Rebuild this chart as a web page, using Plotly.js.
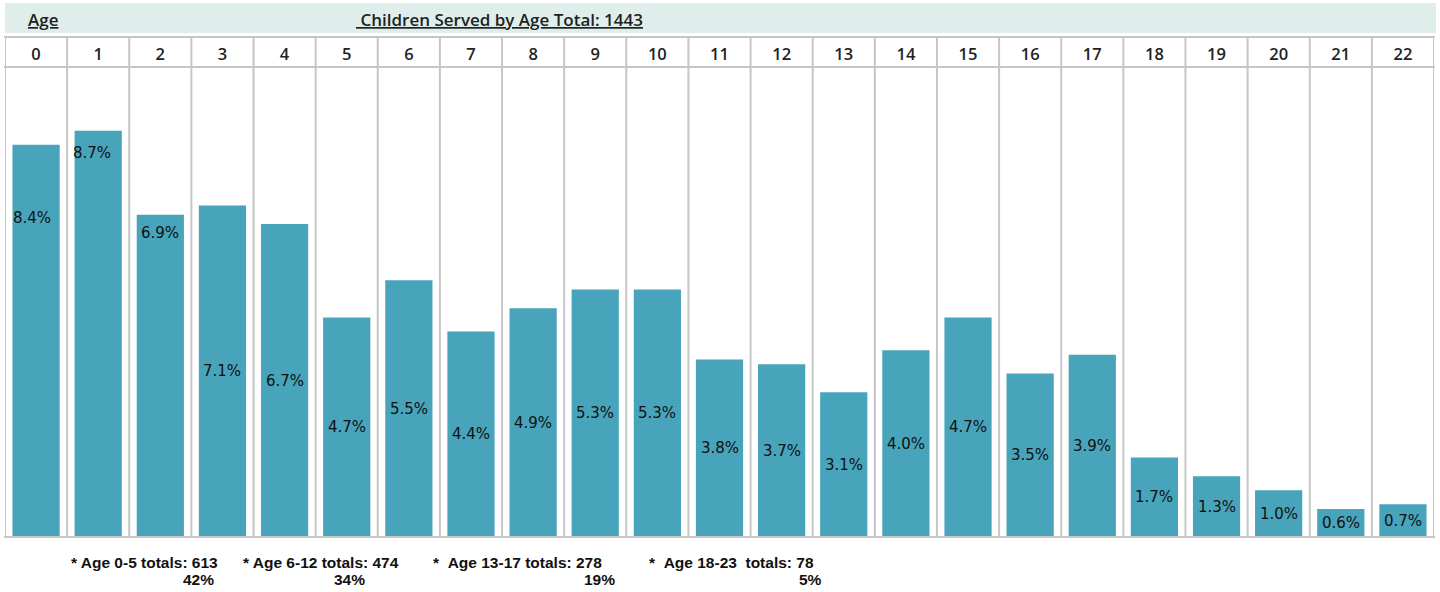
<!DOCTYPE html>
<html>
<head>
<meta charset="utf-8">
<script src="https://cdn.plot.ly/plotly-3.0.1.min.js"></script>
<style>html,body{margin:0;padding:0;background:#fff;}#chart{width:1440px;height:592px;}</style>
</head>
<body>
<div id="chart"></div>
<script>
// ---- data ----
var ages = [0,1,2,3,4,5,6,7,8,9,10,11,12,13,14,15,16,17,18,19,20,21,22];
var ageLabels = ["0","1","2","3","4","5","6","7","8","9","10","11","12","13","14","15","16","17","18","19","20","21","22"];
var pctServed = [8.4,8.7,6.9,7.1,6.7,4.7,5.5,4.4,4.9,5.3,5.3,3.8,3.7,3.1,4.0,4.7,3.5,3.9,1.7,1.3,1.0,0.6,0.7];
var titleLeft = "Age";
var titleMain = "Children Served by Age Total: 1443";
var groupLines = ["* Age 0-5 totals: 613", "* Age 6-12 totals: 474", "*\u00a0\u00a0Age 13-17 totals: 278", "*\u00a0\u00a0Age 18-23\u00a0\u00a0totals: 78"];
var groupPcts = ["42%", "34%", "19%", "5%"];

// ---- layout helpers (pixels) ----
var W = 1440, H = 592;
var plotL = 5, plotR = 1434, plotTop = 67, plotBottom = 537, gridTop = 37;
var pxPerUnit = 46.7;
function py(p){ return (H - p) / H; }
function px(p){ return p / W; }

var barColor = "#47A4BB";
var gridColor = "#C6C6C6";

var trace = {
  type: "bar",
  x: ages,
  y: pctServed,
  marker: {color: barColor, line: {width: 0}},
  width: 0.76,
  hoverinfo: "skip"
};

var shapes = [];
// header band
shapes.push({type:"rect", xref:"paper", yref:"paper", x0:px(5), x1:px(1436), y0:py(33), y1:py(3),
  fillcolor:"#E0EEEB", line:{width:0}, layer:"below"});
// vertical column lines
for (var i = 0; i <= ages.length; i++) {
  shapes.push({type:"line", xref:"x", yref:"paper", x0:i-0.5, x1:i-0.5, y0:py(plotBottom+1), y1:py(gridTop),
    line:{color:gridColor, width:2}, layer:"above"});
}
// horizontal lines
[gridTop, plotTop, plotBottom].forEach(function(yy){
  shapes.push({type:"line", xref:"paper", yref:"paper", x0:px(plotL-1), x1:px(plotR+1), y0:py(yy), y1:py(yy),
    line:{color:gridColor, width:2}, layer:"above"});
});

var annotations = [];
// bar value labels: near top for first three ages, middle for the rest
var topShift = {0:-73, 1:-22, 2:-18};
var sideShift = {0:-4, 1:-6};
for (var j = 0; j < ages.length; j++) {
  var v = pctServed[j];
  var a = {x: ages[j], xref:"x", yref:"y", text: v.toFixed(1) + "%", showarrow:false,
    font:{family:"DejaVu Sans, Verdana, sans-serif", size:15, color:"#111"}, xanchor:"center", yanchor:"middle"};
  if (topShift.hasOwnProperty(j)) { a.y = v; a.yshift = topShift[j]; }
  else { a.y = v / 2; }
  if (sideShift.hasOwnProperty(j)) { a.xshift = sideShift[j]; }
  annotations.push(a);
}
// header titles
var hdrFont = {family:"Open Sans, sans-serif", size:17, color:"#222", weight:600, lineposition:"under"};
annotations.push({xref:"paper", yref:"paper", x:px(26), y:py(19), xanchor:"left", yanchor:"middle",
  text:titleLeft, showarrow:false, font:hdrFont});
annotations.push({xref:"paper", yref:"paper", x:px(354), y:py(19), xanchor:"left", yanchor:"middle",
  text:"\u00a0" + titleMain, showarrow:false, font:hdrFont});
// footer group totals
var footFont = {family:"Liberation Sans, Arial, sans-serif", size:15.5, color:"#111", weight:700};
var line1Right = [220, 401, 604, 816];
var line2Right = [216, 367, 617, 824];
for (var k = 0; k < groupLines.length; k++) {
  annotations.push({xref:"paper", yref:"paper", x:px(line1Right[k]), y:py(562), xanchor:"right", yanchor:"middle",
    text:groupLines[k], showarrow:false, font:footFont});
  annotations.push({xref:"paper", yref:"paper", x:px(line2Right[k]), y:py(579), xanchor:"right", yanchor:"middle",
    text:groupPcts[k], showarrow:false, font:footFont});
}

var layout = {
  width: W, height: H,
  margin: {l:0, r:0, t:0, b:0},
  paper_bgcolor: "#fff", plot_bgcolor: "#fff",
  showlegend: false,
  xaxis: {
    domain: [px(plotL), px(plotR)],
    range: [-0.5, ages.length - 0.5],
    side: "top",
    tickmode: "array", tickvals: ages, ticktext: ageLabels,
    ticks: "", showgrid: false, zeroline: false, showline: false,
    tickfont: {family:"Open Sans, sans-serif", size:16.5, color:"#222", weight:600},
    ticklabelstandoff: 3,
    fixedrange: true
  },
  yaxis: {
    domain: [py(plotBottom), py(plotTop)],
    range: [0, (plotBottom - plotTop) / pxPerUnit],
    visible: false, fixedrange: true
  },
  shapes: shapes,
  annotations: annotations
};

Plotly.newPlot("chart", [trace], layout, {displayModeBar:false, staticPlot:true});
</script>
</body>
</html>
